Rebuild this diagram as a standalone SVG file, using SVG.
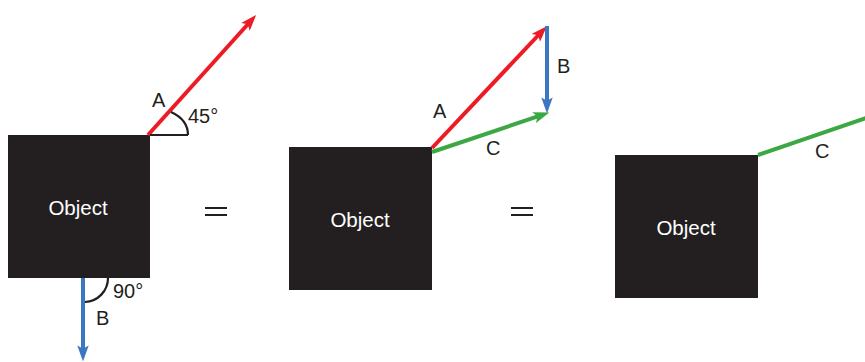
<svg xmlns="http://www.w3.org/2000/svg" width="865" height="362" viewBox="0 0 865 362">
<style>
.box{fill:#231F20}
.obj{fill:#FFFFFF;font-family:"Liberation Sans",Arial,sans-serif;font-size:20.5px;text-anchor:middle}
.lbl{fill:#231F20;font-family:"Liberation Sans",Arial,sans-serif;font-size:20px}
.red{stroke:#ED1C24;stroke-width:4;fill:none}
.blue{stroke:#3B77C0;stroke-width:4;fill:none}
.green{stroke:#3BA843;stroke-width:4;fill:none}
.ang{stroke:#231F20;stroke-width:2.2;fill:none}
.eq{stroke:#231F20;stroke-width:2;fill:none}
</style>
<defs>
<marker id="hr" markerUnits="userSpaceOnUse" markerWidth="16" markerHeight="12" viewBox="0 0 14 10" refX="4" refY="5" orient="auto"><path d="M0,0 L14,5 L0,10 L3,5 z" fill="#ED1C24"/></marker>
<marker id="hb" markerUnits="userSpaceOnUse" markerWidth="16" markerHeight="12" viewBox="0 0 14 10" refX="4" refY="5" orient="auto"><path d="M0,0 L14,5 L0,10 L3,5 z" fill="#3B77C0"/></marker>
<marker id="hg" markerUnits="userSpaceOnUse" markerWidth="16" markerHeight="12" viewBox="0 0 14 10" refX="4" refY="5" orient="auto"><path d="M0,0 L14,5 L0,10 L3,5 z" fill="#3BA843"/></marker>
</defs>

<g id="object1">
<rect class="box" x="8" y="135" width="142" height="143"/>
<text class="obj" x="78" y="215">Object</text>
</g>
<g id="object2">
<rect class="box" x="289" y="147" width="143" height="143"/>
<text class="obj" x="360" y="227">Object</text>
</g>
<g id="object3">
<rect class="box" x="615" y="155" width="143" height="143"/>
<text class="obj" x="686" y="235">Object</text>
</g>

<g id="connectors">
<path class="red" d="M148,135 L248.5,23.5" marker-end="url(#hr)"/>
<path class="blue" d="M83,278 L83,350" marker-end="url(#hb)"/>
<path class="red" d="M432,148 L539,34.5" marker-end="url(#hr)"/>
<path class="blue" d="M547,26 L547,102" marker-end="url(#hb)"/>
<path class="green" d="M432,152 L538.5,116.2" marker-end="url(#hg)"/>
<path class="green" d="M758,155 L872,116"/>
</g>

<g id="angles">
<path class="ang" d="M150,135 L188,135"/>
<path class="ang" d="M171,112 C182,117 188,125 188,135"/>
<path class="ang" d="M108,278 A24,24 0 0 1 85,302"/>
</g>

<g id="equals">
<path class="eq" d="M205,208 L227,208 M205,215 L227,215"/>
<path class="eq" d="M511,208 L533,208 M511,215 L533,215"/>
</g>

<g id="labels">
<text class="lbl" x="152" y="107">A</text>
<text class="lbl" x="188" y="123">45°</text>
<text class="lbl" x="113" y="298">90°</text>
<text class="lbl" x="96" y="325">B</text>
<text class="lbl" x="433" y="118">A</text>
<text class="lbl" x="557" y="73">B</text>
<text class="lbl" x="486" y="155">C</text>
<text class="lbl" x="815" y="158">C</text>
</g>
</svg>
